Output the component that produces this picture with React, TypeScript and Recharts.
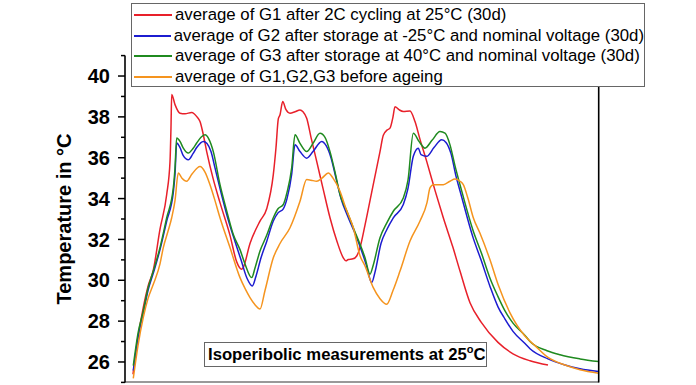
import React from "react";
import { LineChart, Line, XAxis, YAxis, ReferenceLine } from "recharts";

// time (arbitrary units, 0 = start of record) vs. temperature in °C
const G1_CYCLED: [number, number][] = [
  [8, 25.4], [13, 27.2], [18, 28.6], [23, 29.7], [28.3, 30.5], [35, 32.5], [41.7, 34.2],
  [45, 35.8], [46, 37.5], [46.7, 39.1], [50, 38.6], [55, 38.18], [60, 38.15], [66.7, 38.22],
  [72, 38.0], [75, 37.77], [78, 37.2], [81.7, 36.3], [88, 35.0], [95, 33.8], [105, 32.2],
  [111.7, 30.9], [116.7, 30.54], [118, 30.6], [125, 31.8], [135, 32.9], [141.7, 33.5],
  [148.3, 35.17], [151, 36.5], [153.3, 37.9], [155, 38.1], [157.7, 38.75], [161, 38.35],
  [165, 38.18], [170, 38.25], [175, 38.34], [178, 38.25], [181.7, 37.93], [186, 37.0],
  [191.7, 35.82], [198, 34.5], [205, 33.06], [212, 31.9], [218.3, 31.1], [221, 30.95],
  [223.3, 31.02], [228, 31.05], [231.7, 31.19], [235, 31.6], [240, 32.7], [248.3, 34.7],
  [255, 36.3], [258.3, 37.1], [262, 37.35], [265, 37.45], [268, 38.0], [270, 38.5],
  [274, 38.35], [278.3, 38.26], [285, 38.29], [290, 37.77], [295, 36.9], [301.7, 35.82],
  [310, 34.4], [318.3, 33.06], [328, 31.6], [335, 30.45], [345, 28.9], [356.3, 27.94],
  [373, 26.96], [388, 26.4], [405, 26.06], [423, 25.85],
];

const G2_COLD: [number, number][] = [
  [8.3, 25.58], [13, 27.2], [18.3, 28.4], [23, 29.5], [28.3, 30.35], [35, 31.5], [41.7, 32.9],
  [48.3, 34.3], [50, 35.2], [51.7, 36.72], [55, 36.5], [58.3, 36.1], [63.3, 35.9], [68, 36.2],
  [71.7, 36.5], [78.3, 36.8], [82, 36.7], [86, 36.3], [90, 35.5], [96, 34.3], [103, 33.0],
  [110, 31.9], [116, 31.0], [122, 30.1], [127.3, 29.72], [131, 30.2], [136, 31.1],
  [141.7, 31.9], [148.3, 32.9], [153, 33.3], [158.3, 33.5], [162, 34.0], [166.7, 35.2],
  [170, 36.63], [175, 36.3], [181.7, 35.98], [188, 36.3], [196.7, 36.8], [201, 36.6],
  [206, 36.0], [211, 35.0], [216, 34.0], [223, 33.1], [230, 32.3], [241, 30.8],
  [246.7, 29.89], [250, 30.4], [256, 31.8], [262, 32.5], [268.3, 33.06], [278.3, 33.71],
  [283, 34.5], [288.3, 36.07], [293.3, 36.47], [296, 36.15], [301.7, 36.07], [309, 36.5],
  [316.7, 36.88], [321, 36.75], [326, 36.2], [331, 35.1], [336, 34.2], [348, 32.1],
  [356, 31.0], [365, 29.7], [373, 28.7], [380, 28.1], [388, 27.5], [400, 26.9],
  [405, 26.65], [423, 26.15], [440, 25.85], [455, 25.67], [473.7, 25.53],
];

const G3_WARM: [number, number][] = [
  [8.3, 25.82], [13, 27.4], [18.3, 28.5], [23, 29.6], [28.3, 30.45], [35, 31.6], [41.7, 33.06],
  [48.3, 34.52], [50, 35.5], [51.7, 36.96], [55, 36.8], [58.3, 36.47], [63.3, 36.23],
  [68, 36.45], [71.7, 36.72], [76, 37.0], [80, 37.12], [84, 36.9], [88.3, 36.3], [95, 34.68],
  [101.7, 33.4], [108.3, 32.24], [115, 31.5], [120, 30.8], [126.7, 30.13], [130, 30.6],
  [135, 31.43], [141.7, 32.2], [148.3, 33.06], [153, 33.5], [158.3, 33.71], [162, 34.3],
  [166.7, 35.5], [170, 37.12], [175, 36.7], [181.7, 36.3], [188, 36.7], [195, 37.2],
  [200, 37.0], [205, 36.3], [210, 35.3], [215, 34.2], [221.7, 33.4], [228.3, 32.57],
  [240, 31.1], [245, 30.3], [248, 30.7], [255, 32.08], [261.7, 32.8], [268.3, 33.38],
  [278.3, 34.03], [283, 34.9], [288.3, 37.2], [294, 36.8], [300, 36.47], [307, 36.85],
  [315, 37.28], [320, 37.2], [325, 36.63], [330, 35.6], [335, 34.68], [348.3, 32.4],
  [356.3, 31.35], [365, 30.1], [373, 29.2], [380, 28.5], [388, 27.9], [400, 27.3],
  [405, 27.0], [422, 26.55], [435, 26.35], [455, 26.15], [473.7, 26.02],
];

const FRESH: [number, number][] = [
  [8.3, 25.2], [13, 26.8], [18.3, 28.18], [23, 29.1], [28.3, 29.8], [35, 30.8], [38.3, 31.6],
  [43, 32.4], [46.7, 33.06], [50, 33.9], [53.3, 35.25], [57, 35.0], [61.7, 34.85], [67, 35.2],
  [75, 35.57], [80, 35.3], [85, 34.68], [90, 33.9], [95, 33.06], [105, 31.6], [115, 30.13],
  [120, 29.6], [125, 29.15], [130, 28.8], [135, 28.59], [140, 29.5], [148.3, 31.1],
  [155, 31.8], [165, 32.57], [175, 33.87], [181.7, 34.93], [186, 34.9], [191.7, 34.85],
  [197, 35.0], [203.3, 35.25], [208, 35.0], [215, 34.36], [221, 33.5], [228.3, 32.57],
  [235, 31.2], [240, 30.7], [248.3, 29.64], [255, 29.1], [261.7, 28.83], [268, 29.5],
  [275, 30.45], [285, 31.92], [295, 32.9], [302, 33.8], [305, 34.52], [308.3, 34.68],
  [318.3, 34.68], [325, 34.85], [330, 34.96], [335, 34.85], [338.3, 34.68], [343, 34.0],
  [348.3, 33.06], [355, 32.3], [365, 31.0], [373, 29.8], [385, 28.4], [399.7, 27.28],
  [410, 26.8], [423, 26.22], [440, 25.85], [455, 25.62], [473.7, 25.45],
];

const Y_TICKS = [25, 26, 27, 28, 29, 30, 31, 32, 33, 34, 35, 36, 37, 38, 39, 40, 41];

const SERIES = [
  { name: "average of G1 after 2C cycling at 25°C (30d)", color: "#e8202a", data: G1_CYCLED },
  { name: "average of G2 after storage at -25°C and nominal voltage (30d)", color: "#1c1cd0", data: G2_COLD },
  { name: "average of G3 after storage at 40°C and nominal voltage (30d)", color: "#1f8a1f", data: G3_WARM },
  { name: "average of G1,G2,G3 before ageing", color: "#f5941e", data: FRESH },
];

const FONT = "'Liberation Sans', Arial, sans-serif";

function LeftTick(props: any) {
  const { x, y, payload } = props;
  const v = payload.value;
  const major = v % 2 === 0;
  return (
    <g>
      <line x1={x - (major ? 7 : 4)} x2={x} y1={y} y2={y} stroke="#000" strokeWidth={1.5} />
      {major && (
        <text x={x - 15} y={y} dy="0.36em" textAnchor="end" fontFamily={FONT} fontWeight="bold" fontSize={20} fill="#000">
          {v}
        </text>
      )}
    </g>
  );
}

function RightTick(props: any) {
  const { x, y, payload } = props;
  const major = payload.value % 2 === 0;
  return <line x1={x - (major ? 6 : 3.5)} x2={x} y1={y} y2={y} stroke="#000" strokeWidth={1.3} />;
}

function YLabel(props: any) {
  const { viewBox } = props;
  const x = viewBox.x + 21;
  const y = viewBox.y + viewBox.height / 2;
  return (
    <text x={x} y={y} transform={`rotate(-90, ${x}, ${y})`} textAnchor="middle" fontFamily={FONT} fontWeight="bold" fontSize={20} fill="#000">
      Temperature in °C
    </text>
  );
}

export default function App() {
  return (
    <div style={{ position: "absolute", left: 0, top: 0, width: 696, height: 385, background: "#fff", overflow: "hidden", fontFamily: FONT }}>
      <LineChart width={696} height={385} margin={{ top: 55.6, right: 87.3, bottom: 2.6, left: 50 }}>
        <XAxis type="number" dataKey="t" domain={[0, 473.7]} hide />
        <YAxis
          yAxisId="left"
          type="number"
          domain={[25, 41]}
          ticks={Y_TICKS}
          interval={0}
          width={75}
          tickSize={0}
          tickMargin={0}
          tickLine={false}
          tick={<LeftTick />}
          axisLine={{ stroke: "#000", strokeWidth: 1.6 }}
          label={<YLabel />}
        />
        <YAxis
          yAxisId="right"
          orientation="right"
          type="number"
          domain={[25, 41]}
          ticks={Y_TICKS}
          interval={0}
          width={10}
          tickSize={0}
          tickMargin={0}
          tickLine={false}
          tick={<RightTick />}
          axisLine={{ stroke: "#000", strokeWidth: 1.6 }}
        />
        <ReferenceLine yAxisId="left" y={25.02} stroke="#777" strokeWidth={1.3} />
        {SERIES.map((s) => (
          <Line
            key={s.name}
            yAxisId="left"
            data={s.data.map(([t, v]) => ({ t, v }))}
            dataKey="v"
            type="monotone"
            stroke={s.color}
            strokeWidth={1.5}
            dot={false}
            isAnimationActive={false}
          />
        ))}
      </LineChart>

      <div
        style={{
          position: "absolute",
          left: 131,
          top: 3,
          width: 514,
          height: 84,
          border: "1px solid #666",
          background: "#fff",
          paddingTop: 1,
          boxSizing: "border-box",
        }}
      >
        {SERIES.map((s) => (
          <div key={s.name} style={{ display: "flex", alignItems: "center", height: 20.5 }}>
            <div style={{ width: 38, height: 1.6, background: s.color, marginLeft: 2, marginRight: 3 }} />
            <span style={{ fontSize: 16.8, color: "#000", whiteSpace: "nowrap" }}>{s.name}</span>
          </div>
        ))}
      </div>

      <div
        style={{
          position: "absolute",
          left: 204,
          top: 342,
          width: 283,
          height: 25,
          border: "1px solid #666",
          background: "#fff",
          boxSizing: "border-box",
          fontWeight: "bold",
          fontSize: 16.7,
          lineHeight: "23px",
          paddingLeft: 3,
          whiteSpace: "nowrap",
          color: "#000",
        }}
      >
        Isoperibolic measurements at 25<sup style={{ fontSize: 11, lineHeight: 0 }}>o</sup>C
      </div>
    </div>
  );
}
